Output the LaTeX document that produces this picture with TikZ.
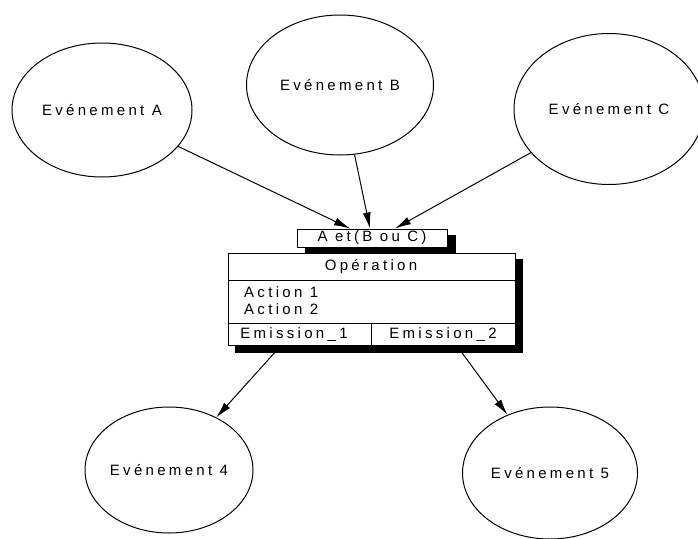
\documentclass[tikz,border=0pt]{standalone}
\usepackage{fontspec}
\setmainfont{Liberation Sans}[LetterSpace=22]
\usetikzlibrary{shapes.geometric,arrows.meta,calc}
\begin{document}
\begin{tikzpicture}[x=1pt,y=-1pt,
  txt/.style={font=\fontsize{15}{17}\selectfont, inner sep=0pt},
  ev/.style={ellipse, draw=black, line width=1pt, fill=white, txt},
  arr/.style={draw=black, line width=1pt, -{Latex[length=16pt,width=8pt]}},
  shadowbox/.style={fill=black, draw=none},
  box/.style={draw=black, line width=1pt, fill=white}]
\useasboundingbox (0,0) rectangle (698,538);
\fill[white] (0,0) rectangle (698,538);

% events
\node[ev, minimum width=180pt, minimum height=134pt] (A) at (102,110) {Evénement A};
\node[ev, minimum width=187pt, minimum height=140pt] (B) at (340,85) {Evénement B};
\node[ev, minimum width=190pt, minimum height=151pt] (C) at (609,109) {Evénement C};
\node[ev, minimum width=168pt, minimum height=126pt] (E4) at (169,470) {Evénement 4};
\node[ev, minimum width=175pt, minimum height=132pt] (E5) at (550,473) {Evénement 5};

% condition label
\fill[shadowbox] (305,235) rectangle (456,253);
\node[box, txt, minimum width=150pt, minimum height=18pt] (lbl) at (372,238) {A et(B ou C)};

% operation box
\coordinate (s4) at (277,350);
\coordinate (s5) at (460,350);
\draw[arr] (s4) -- (E4);
\draw[arr] (s5) -- (E5);
\fill[shadowbox] (235,259) rectangle (523,353);
\node[box, minimum width=287pt, minimum height=92pt, inner sep=0pt] (op) at (371.5,299) {};
\draw[line width=1pt] (op.west |- 0,280) coordinate (d1w) -- (op.east |- 0,280) coordinate (d1e);
\draw[line width=1pt] (op.west |- 0,323) coordinate (d2w) -- (op.east |- 0,323) coordinate (d2e);
\draw[line width=1pt] (371,323) coordinate (vt) -- (371,345) coordinate (vb);
\node[txt] (opname) at (371,267) {Opération};
\node[txt, anchor=west] (act1) at (244,292) {Action 1};
\node[txt, anchor=west] (act2) at (244,309) {Action 2};
\node[txt] (em1) at (294,335) {Emission\_1};
\node[txt] (em2) at (443,335) {Emission\_2};

% incoming arrows
\draw[arr] (A) -- ([xshift=-22pt]lbl.north);
\draw[arr] (B) -- ([xshift=-2pt]lbl.north);
\draw[arr] (C) -- ([xshift=23pt]lbl.north);
\end{tikzpicture}
\end{document}
